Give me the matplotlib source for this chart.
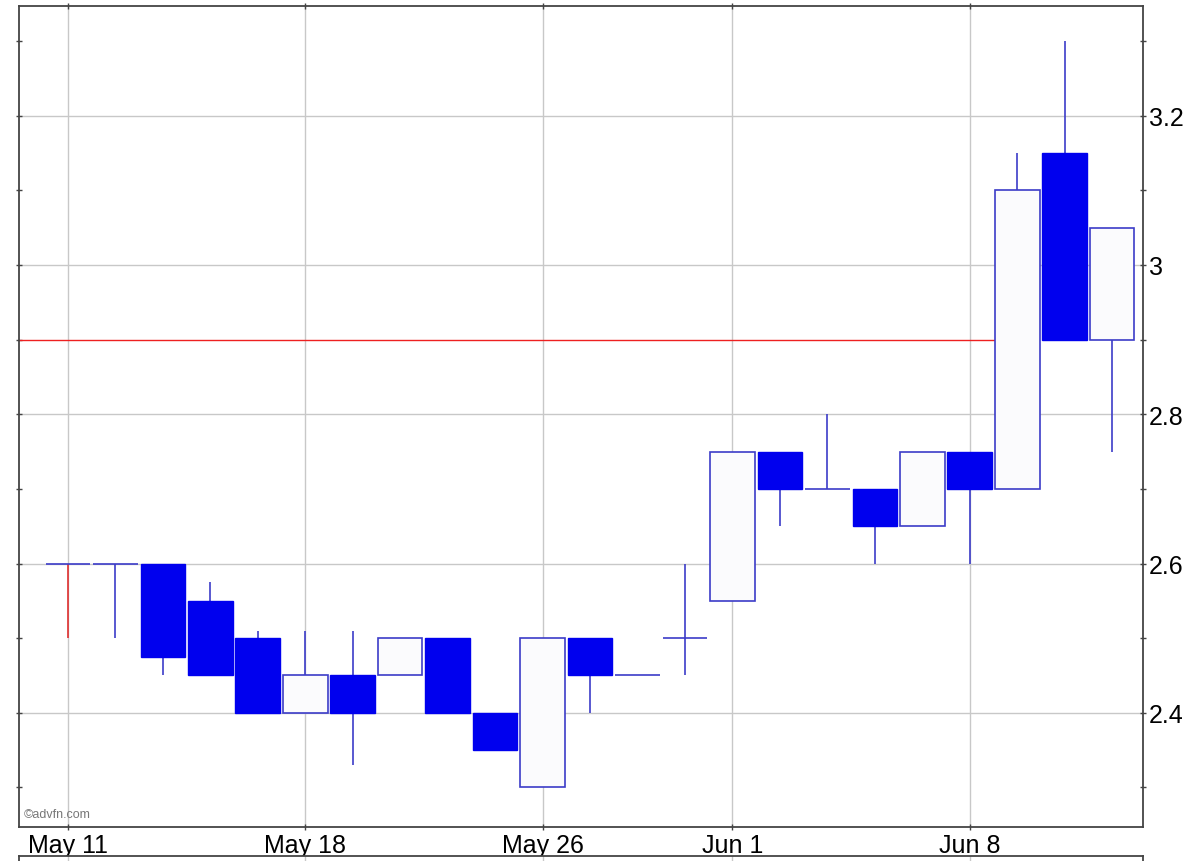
import numpy as np
import matplotlib.pyplot as plt
from matplotlib.ticker import MultipleLocator, FixedLocator

plt.rcParams['font.family'] = ['Liberation Sans', 'DejaVu Sans']

# Sesiones (días de mercado) y precios OHLC
dates = ['May 11', 'May 12', 'May 13', 'May 14', 'May 15',
         'May 18', 'May 19', 'May 20', 'May 21', 'May 22',
         'May 26', 'May 27', 'May 28', 'May 29',
         'Jun 1', 'Jun 2', 'Jun 3', 'Jun 4', 'Jun 5',
         'Jun 8', 'Jun 9', 'Jun 10', 'Jun 11']
opens = [2.60, 2.60, 2.60, 2.55, 2.50, 2.40, 2.45, 2.45, 2.50, 2.40, 2.30, 2.50,
         2.45, 2.50, 2.55, 2.75, 2.70, 2.70, 2.65, 2.75, 2.70, 3.15, 2.90]
highs = [2.60, 2.60, 2.60, 2.575, 2.51, 2.51, 2.51, 2.50, 2.50, 2.40, 2.50, 2.50,
         2.45, 2.60, 2.75, 2.75, 2.80, 2.70, 2.75, 2.75, 3.15, 3.30, 3.05]
lows = [2.50, 2.50, 2.45, 2.45, 2.40, 2.40, 2.33, 2.45, 2.40, 2.35, 2.30, 2.40,
        2.45, 2.45, 2.55, 2.65, 2.70, 2.60, 2.65, 2.60, 2.70, 2.90, 2.75]
closes = [2.60, 2.60, 2.475, 2.45, 2.40, 2.45, 2.40, 2.50, 2.40, 2.35, 2.50, 2.45,
          2.45, 2.50, 2.75, 2.70, 2.70, 2.65, 2.75, 2.70, 3.10, 2.90, 3.05]
week_labels = ['May 11', 'May 18', 'May 26', 'Jun 1', 'Jun 8']
ref_level = 2.9      # línea roja de referencia
ref_end = 'Jun 9'    # la línea termina al llegar a esta vela

up_edge = '#3c3cc8'
down_fill = '#0000ee'
hollow_fill = '#fbfbfd'
grid_col = '#c8c8c8'

fig = plt.figure(figsize=(12, 8.62), dpi=100)
ax = fig.add_axes([19/1200, 1 - 828/862, (1143 - 19)/1200, (828 - 7)/862])

x = np.arange(len(dates))
o = np.array(opens)
h = np.array(highs)
l = np.array(lows)
c = np.array(closes)
w = 0.94

# Mechas
wick_cols = [up_edge] * len(x)
wick_cols[0] = '#e03030'
ax.vlines(x, l, h, colors=wick_cols, lw=1.2, zorder=3)

# Cuerpos
doji = o == c
down = (c < o) & ~doji
up = (c > o) & ~doji
ax.bar(x[down], (o - c)[down], bottom=c[down], width=w, color=down_fill,
       edgecolor=down_fill, lw=1, zorder=4)
ax.bar(x[up], (c - o)[up], bottom=o[up], width=w, color=hollow_fill,
       edgecolor=up_edge, lw=1.2, zorder=4)
ax.hlines(o[doji], x[doji] - w / 2, x[doji] + w / 2, colors=up_edge, lw=1.2, zorder=4)

# Línea de referencia
xi = dates.index(ref_end)
ax.hlines(ref_level, -2, xi - w / 2, colors='#ee2020', lw=1, zorder=2)

ax.set_xlim(-1.03, 22.65)
ax.set_ylim(2.247, 3.347)

week_pos = [dates.index(d) for d in week_labels]
ax.xaxis.set_major_locator(FixedLocator(week_pos))
ax.set_xticklabels(week_labels)
ax.yaxis.set_major_locator(MultipleLocator(0.2))
ax.yaxis.set_minor_locator(MultipleLocator(0.1))
ax.yaxis.set_major_formatter(plt.FuncFormatter(lambda v, p: f'{v:g}'))
ax.yaxis.tick_right()
ax.tick_params(axis='both', which='both', direction='inout', length=5,
               width=1, color='#444444', labelsize=18, pad=2,
               left=True, right=True, top=True, bottom=True)
ax.tick_params(axis='y', which='minor', length=4)
ax.tick_params(axis='x', pad=2)

ax.grid(True, color=grid_col, lw=1, zorder=0)
ax.set_axisbelow(True)
for s in ax.spines.values():
    s.set_color('#444444')
    s.set_linewidth(1.3)

ax.text(0.004, 0.012, '©advfn.com', transform=ax.transAxes, fontsize=9,
        color='#777777')

# Panel inferior (recortado)
ax2 = fig.add_axes([19/1200, -0.05, (1143 - 19)/1200, 0.05 + (862 - 857)/862])
ax2.set_xlim(ax.get_xlim())
ax2.xaxis.set_major_locator(FixedLocator(week_pos))
ax2.set_yticks([])
ax2.tick_params(axis='x', labelbottom=False, length=0)
ax2.grid(True, axis='x', color=grid_col, lw=1)
for s in ax2.spines.values():
    s.set_color('#444444')
    s.set_linewidth(1.3)

fig.savefig('out.png', dpi=100)
